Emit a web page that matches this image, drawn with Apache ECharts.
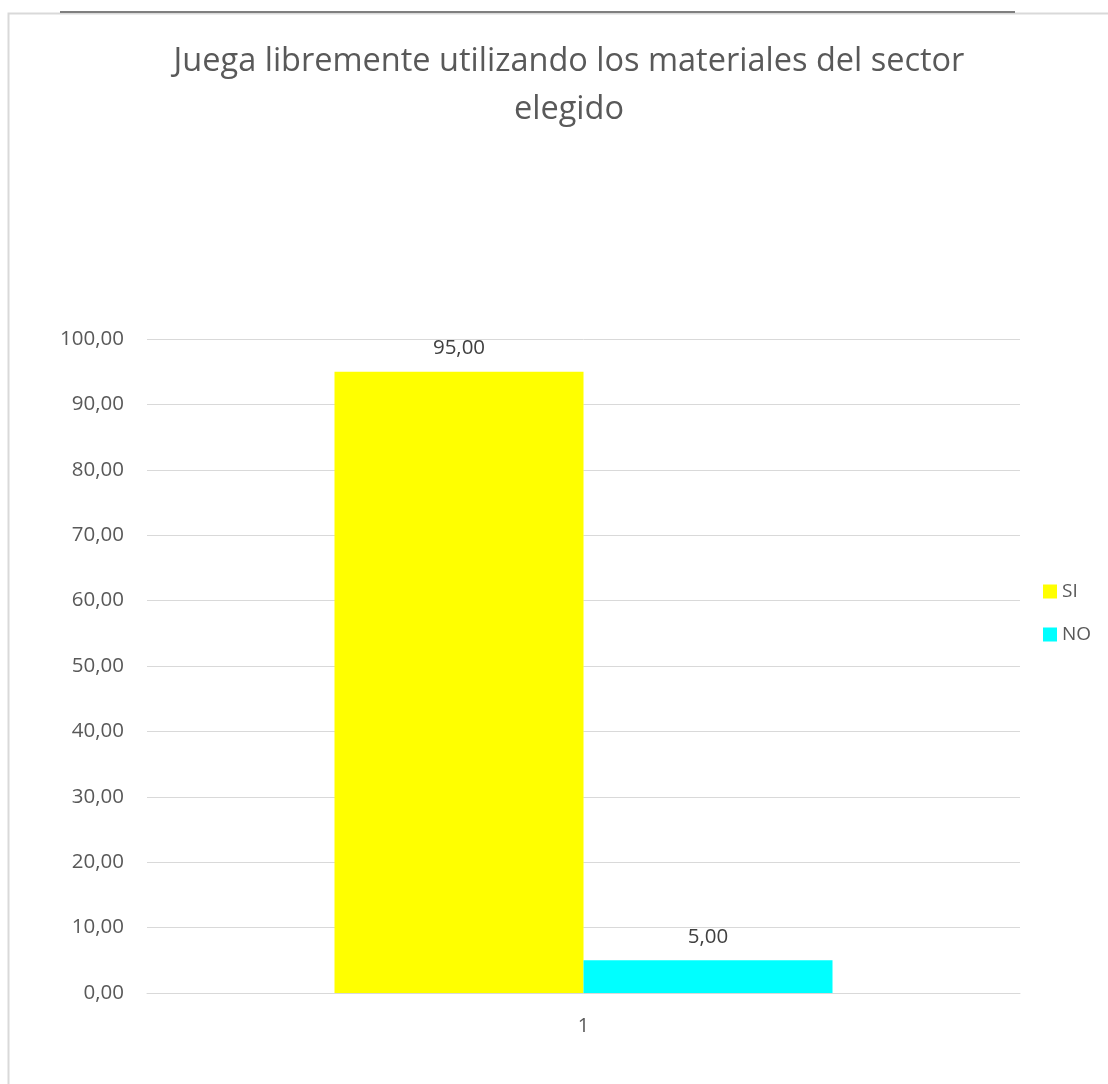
<!DOCTYPE html>
<html>
<head>
<meta charset="utf-8">
<script src="https://cdn.jsdelivr.net/npm/echarts@6/dist/echarts.min.js"></script>
<style>
  html, body { margin: 0; padding: 0; background: #ffffff; }
  #chart { width: 1108px; height: 1084px; }
</style>
</head>
<body>
<div id="chart"></div>
<script>
const titleText = 'Juega libremente utilizando los materiales del sector\nelegido';
const categories = ['1'];
const seriesNames = ['SI', 'NO'];
const siValues = [95];
const noValues = [5];
const seriesColors = ['#ffff00', '#00ffff'];

const fmt = v => v.toFixed(2).replace('.', ',');
const fontFamily = '"Open Sans", "Liberation Sans", sans-serif';

const chart = echarts.init(document.getElementById('chart'));
chart.setOption({
  animation: false,
  backgroundColor: '#ffffff',
  textStyle: { fontFamily },
  title: {
    text: titleText,
    left: 564,
    top: 33,
    textAlign: 'center',
    textStyle: {
      fontFamily,
      fontWeight: 400,
      fontSize: 32.5,
      lineHeight: 48,
      color: '#595959'
    }
  },
  legend: {
    orient: 'vertical',
    left: 1038,
    top: 577,
    icon: 'rect',
    itemWidth: 14,
    itemHeight: 14,
    itemGap: 24,
    textStyle: { fontFamily, fontSize: 19, color: '#595959' },
    data: seriesNames
  },
  grid: { left: 147, right: 88, top: 339, bottom: 91, containLabel: false },
  xAxis: {
    type: 'category',
    data: categories,
    axisLine: { lineStyle: { color: '#d9d9d9', width: 1 } },
    axisTick: { show: false },
    axisLabel: { fontFamily, fontSize: 20, color: '#595959', margin: 23 }
  },
  yAxis: {
    type: 'value',
    min: 0,
    max: 100,
    interval: 10,
    axisLine: { show: false },
    axisTick: { show: false },
    splitLine: { lineStyle: { color: '#d9d9d9', width: 1 } },
    axisLabel: {
      fontFamily, fontSize: 20.5, color: '#595959', margin: 23,
      formatter: v => fmt(v)
    }
  },
  graphic: [
    {
      type: 'rect',
      shape: { x: 8.5, y: 13.5, width: 1200, height: 1200 },
      style: { fill: 'none', stroke: '#d9d9d9', lineWidth: 2 },
      silent: true
    },
    {
      type: 'line',
      shape: { x1: 60, y1: 12, x2: 1015, y2: 12 },
      style: { stroke: '#7f7f7f', lineWidth: 2 },
      silent: true
    }
  ],
  series: [
    {
      name: seriesNames[0],
      type: 'bar',
      data: siValues,
      barWidth: 249,
      barGap: '0%',
      itemStyle: { color: seriesColors[0] },
      label: {
        show: true, position: 'top', distance: 13,
        fontFamily, fontSize: 20.5, color: '#404040',
        formatter: p => fmt(p.value)
      }
    },
    {
      name: seriesNames[1],
      type: 'bar',
      data: noValues,
      barWidth: 249,
      barGap: '0%',
      itemStyle: { color: seriesColors[1] },
      label: {
        show: true, position: 'top', distance: 13,
        fontFamily, fontSize: 20.5, color: '#404040',
        formatter: p => fmt(p.value)
      }
    }
  ]
});
</script>
</body>
</html>
